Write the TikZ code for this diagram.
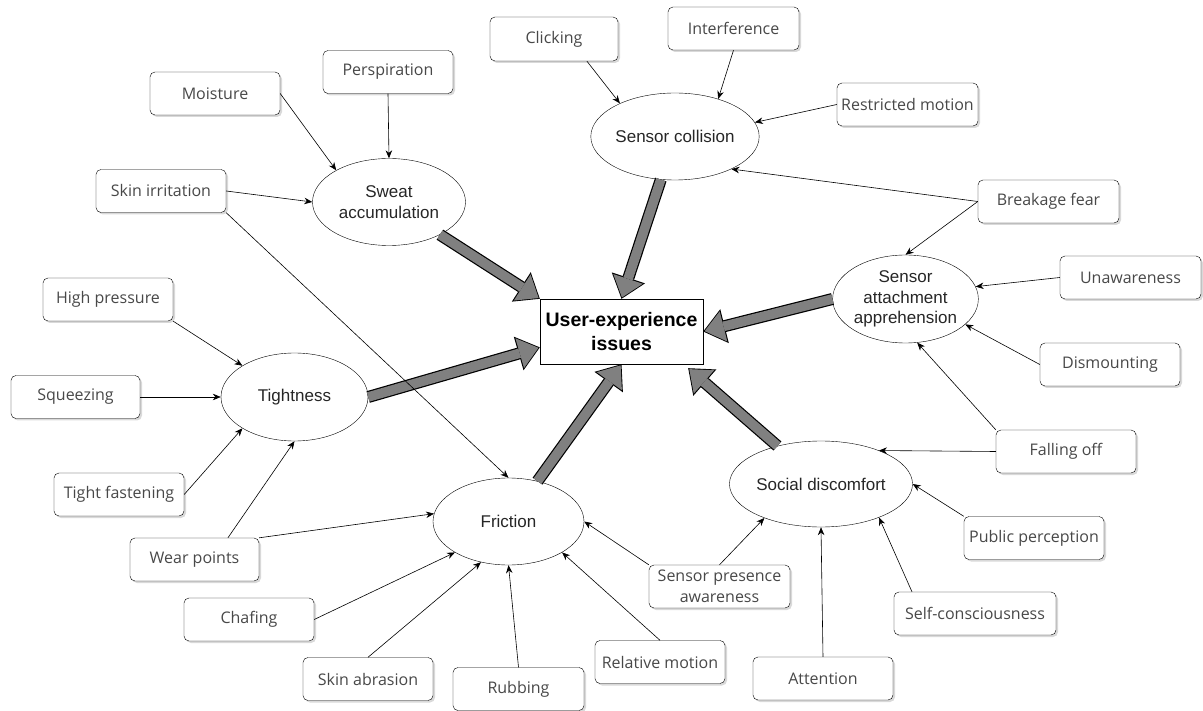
\documentclass[tikz,border=0pt]{standalone}
\usepackage{fontspec}
\usetikzlibrary{shapes.geometric,arrows.meta,shadows}
\newfontfamily\boxfont{Open Sans}
\newfontfamily\ovalfont{Liberation Sans}
\definecolor{boxtext}{RGB}{72,72,72}
\definecolor{arrowgray}{RGB}{128,128,128}
\tikzset{
  cause/.style={draw, rounded corners=5pt, fill=white, minimum width=130pt, minimum height=43pt,
    inner sep=1pt, align=center, text=boxtext, font=\boxfont\fontsize{16}{21}\selectfont,
    drop shadow={shadow xshift=2pt, shadow yshift=-2pt, opacity=0.3}},
  wide/.style={minimum width=141pt},
  issue/.style={draw, ellipse, fill=white, minimum width=146pt, minimum height=87pt, inner sep=0pt,
    align=center, text=black!85, font=\ovalfont\fontsize{17}{20.5}\selectfont},
  core/.style={draw, fill=white, minimum width=163pt, minimum height=65pt, align=center,
    font=\ovalfont\bfseries\fontsize{19.5}{24}\selectfont},
  link/.style={line width=0.6pt, -{Stealth[length=8pt,width=6.5pt]}}
}

\begin{document}
\begin{tikzpicture}[x=1pt, y=-1pt]
  \useasboundingbox (0,0) rectangle (1203,711);

  \node[core] (ux) at (621.5,331.5) {User-experience\\issues};

  \node[issue, minimum width=153pt] (sweat) at (389,202) {Sweat\\accumulation};
  \node[issue, minimum width=144pt] (collision) at (675,136.5) {Sensor collision};
  \node[issue, minimum width=145pt, minimum height=88pt] (attach) at (905.5,299) {Sensor\\attachment\\apprehension};
  \node[issue, minimum width=147pt, minimum height=88pt] (tight) at (294.5,397) {Tightness};
  \node[issue, minimum width=151pt] (friction) at (508.5,521.5) {Friction};
  \node[issue, minimum width=144pt, minimum height=86pt] (social) at (821,484) {Social discomfort};

  \node[cause, minimum width=128pt, minimum height=44pt] (clicking) at (554,39) {Clicking};
  \node[cause, minimum width=131pt] (interference) at (733.5,28.5) {Interference};
  \node[cause] (perspiration) at (388,72) {Perspiration};
  \node[cause] (moisture) at (215,93.5) {Moisture};
  \node[cause] (skinirr) at (161,191) {Skin irritation};
  \node[cause, wide] (restricted) at (907.5,104.5) {Restricted motion};
  \node[cause, wide] (breakage) at (1048.5,201.5) {Breakage fear};
  \node[cause, wide] (unaware) at (1130.5,277.5) {Unawareness};
  \node[cause, minimum width=140pt] (dismount) at (1110,364.5) {Dismounting};
  \node[cause] (highpress) at (108,299.5) {High pressure};
  \node[cause, minimum width=129pt] (squeeze) at (75.5,397) {Squeezing};
  \node[cause] (tightfast) at (119,494.5) {Tight fastening};
  \node[cause, minimum width=129pt] (wear) at (194.5,559.5) {Wear points};
  \node[cause] (chafing) at (249,619.5) {Chafing};
  \node[cause] (abrasion) at (368,679) {Skin abrasion};
  \node[cause, minimum width=131pt] (rubbing) at (518.5,689) {Rubbing};
  \node[cause] (relmotion) at (660,662) {Relative motion};
  \node[cause, wide] (presence) at (719.5,586.5) {Sensor presence\\awareness};
  \node[cause, minimum width=140pt] (attention) at (823,678.5) {Attention};
  \node[cause, minimum width=162pt] (selfcon) at (975,613.5) {Self-consciousness};
  \node[cause, minimum width=140pt] (public) at (1034,538) {Public perception};
  \node[cause, minimum width=140pt] (falling) at (1066,451.5) {Falling off};

  \coordinate (uxse) at ([shift={(-15pt,-4pt)}]ux.south east);
  \foreach \src/\dst in {sweat/ux.north west, collision/ux.north, attach.west/ux.east,
      social/uxse, friction/ux.south, tight.east/ux.191} {
    \draw[line width=12pt, -{Triangle[length=22pt, width=35pt, line width=0pt]}] (\src) -- (\dst);
    \draw[line width=9.6pt, arrowgray, shorten >=1.4pt,
      -{Triangle[length=19.5pt, width=31pt, line width=0pt]}] (\src) -- (\dst);
  }

  \draw[link] (moisture.east) -- (sweat.149);
  \draw[link] (perspiration.south) -- (sweat.north);
  \draw[link] (skinirr.east) -- (sweat.west);
  \draw[link] (skinirr.south east) -- (friction.north);
  \draw[link] (highpress.south east) -- (tight.149);
  \draw[link] (squeeze.east) -- (tight.west);
  \draw[link] (tightfast.east) -- (tight.211);
  \draw[link] (wear.33) -- (tight.south);
  \draw[link] (wear.north east) -- (friction.174);
  \draw[link] (chafing.east) -- (friction.210);
  \draw[link] (abrasion.north) -- (friction.236);
  \draw[link] (rubbing.north) -- (friction.south);
  \draw[link] (relmotion.north) -- (friction.-30);
  \draw[link] (presence.north west) -- (friction.east);
  \draw[link] (presence.north) -- (social.211);
  \draw[link] (attention.north) -- (social.south);
  \draw[link] (selfcon.161) -- (social.-30);
  \draw[link] (public.north west) -- (social.east);
  \draw[link] (falling.west) -- (social.30);
  \draw[link] (falling.north west) -- (attach.-75);
  \draw[link] (dismount.west) -- (attach.-23);
  \draw[link] (unaware.west) -- (attach.10);
  \draw[link] (breakage.west) -- (attach.north);
  \draw[link] (breakage.west) -- (collision.-30);
  \draw[link] (restricted.west) -- (collision.10);
  \draw[link] (interference.south) -- (collision.41);
  \draw[link] (clicking.-34) -- (collision.149);
\end{tikzpicture}
\end{document}
